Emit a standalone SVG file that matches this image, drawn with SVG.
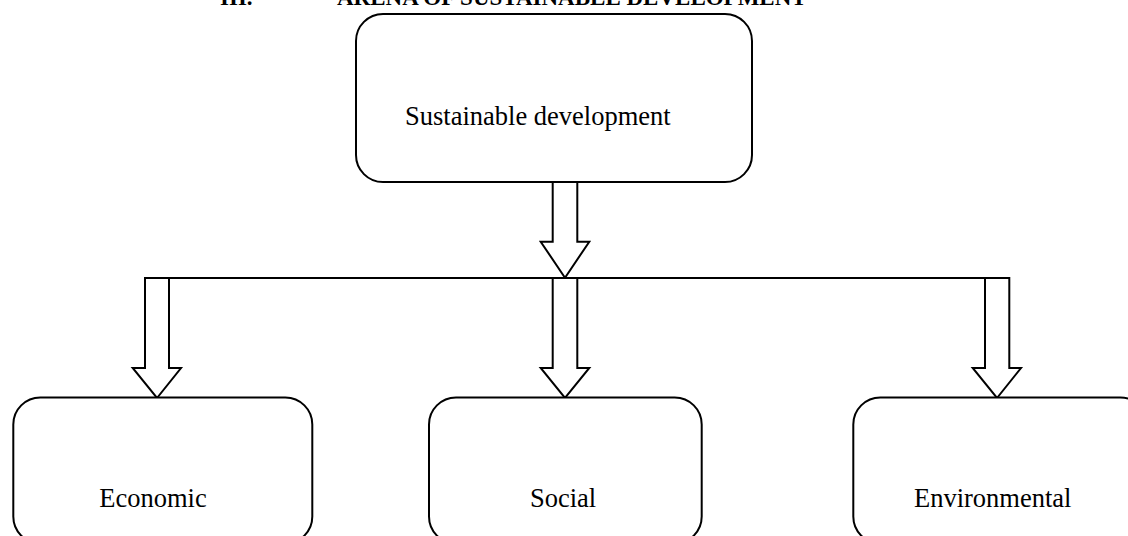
<svg xmlns="http://www.w3.org/2000/svg" width="1128" height="536" viewBox="0 0 1128 536">
<style>
.box{fill:#fff;stroke:#000;stroke-width:2}
.arr{fill:#fff;stroke:#000;stroke-width:2;stroke-linejoin:miter}
.lbl{font-family:"Liberation Serif","Times New Roman",serif;font-size:26.5px;fill:#000}
.ttl{font-family:"Liberation Serif","Times New Roman",serif;font-size:23px;font-weight:bold;fill:#000}
</style>
<rect width="1128" height="536" fill="#fff"/>
<g id="title">
<text class="ttl" x="220" y="5">III.</text>
<text class="ttl" x="337" y="5">ARENA OF SUSTAINABLE DEVELOPMENT</text>
</g>
<g id="connectors">
<line x1="145" y1="278" x2="1009.3" y2="278" stroke="#000" stroke-width="2"/>
<polygon class="arr" points="552.7,182 552.7,241.7 540.7,241.7 565,277.7 589.3,241.7 577.3,241.7 577.3,182"/>
<polygon class="arr" points="145,278 145,368 132.7,368 157,398 181,368 169,368 169,278"/>
<polygon class="arr" points="552.7,278 552.7,368 540.7,368 565,398 589.3,368 577.3,368 577.3,278"/>
<polygon class="arr" points="985,278 985,368 972.7,368 997,398 1021,368 1009.3,368 1009.3,278"/>
</g>
<g id="node-sustainable">
<rect class="box" x="356" y="14" width="396" height="168" rx="27" ry="27"/>
<text class="lbl" x="405" y="125">Sustainable development</text>
</g>
<g id="node-economic">
<rect class="box" x="13.3" y="397.5" width="299" height="146" rx="27" ry="27"/>
<text class="lbl" x="99.3" y="506.5">Economic</text>
</g>
<g id="node-social">
<rect class="box" x="429" y="397.5" width="272.7" height="146" rx="27" ry="27"/>
<text class="lbl" x="530" y="506.5">Social</text>
</g>
<g id="node-environmental">
<rect class="box" x="853.3" y="397.5" width="294" height="146" rx="27" ry="27"/>
<text class="lbl" x="914" y="506.5">Environmental</text>
</g>
</svg>
